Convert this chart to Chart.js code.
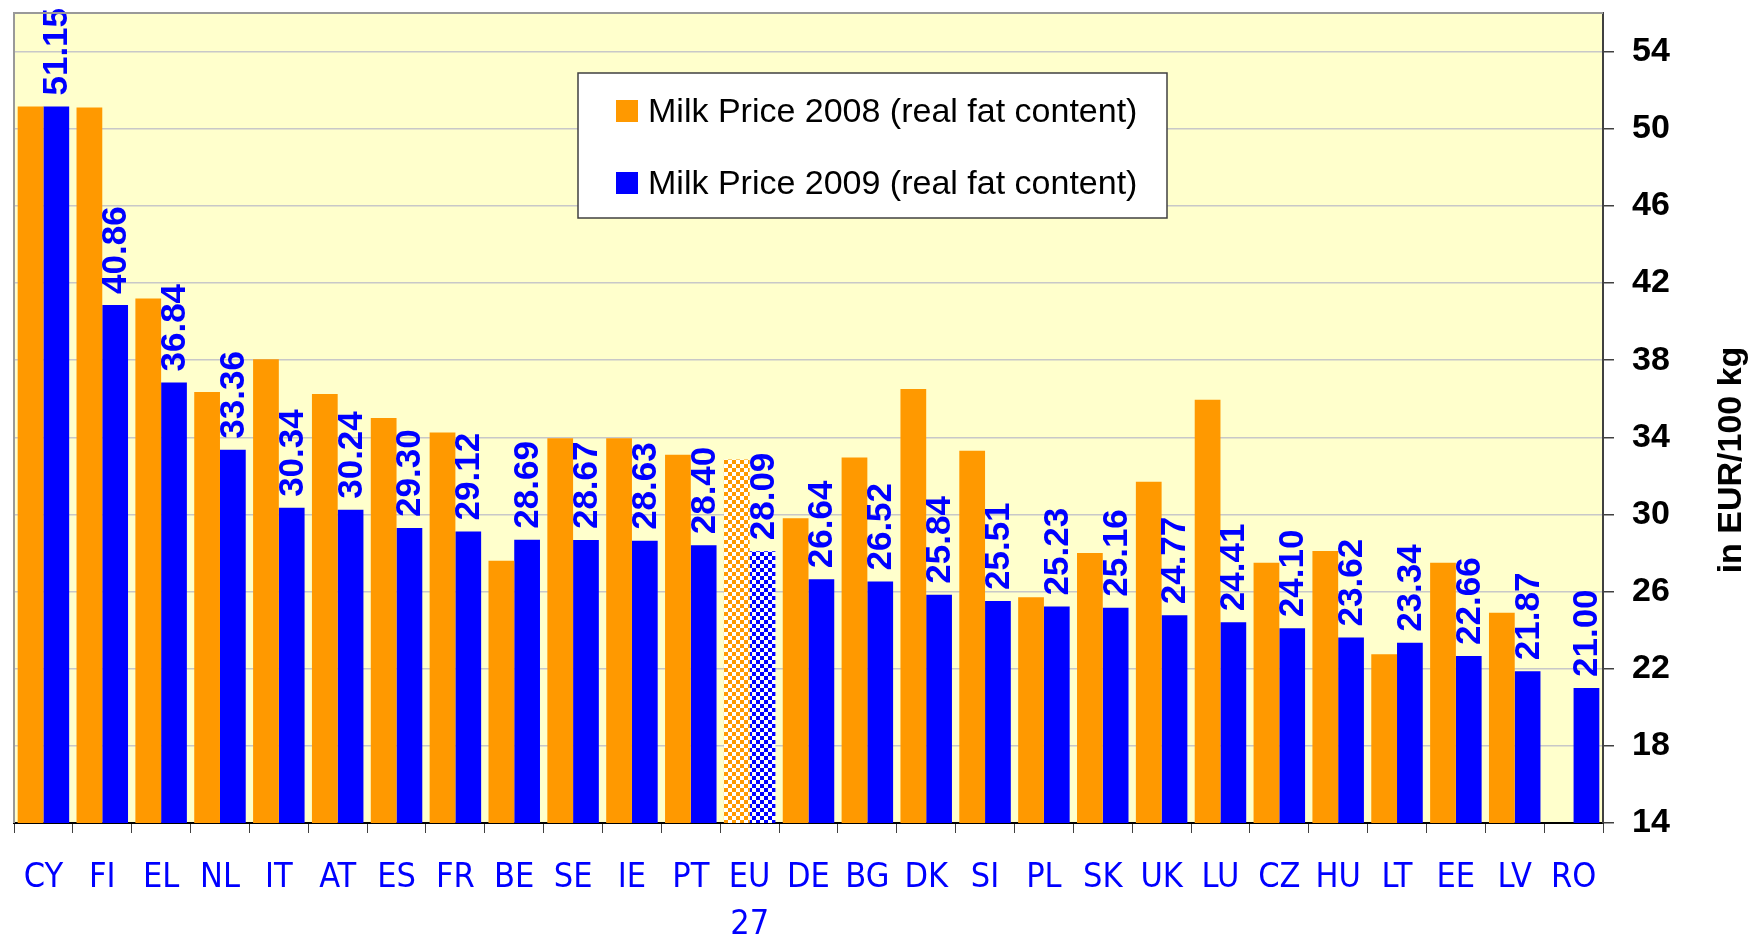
<!DOCTYPE html>
<html>
<head>
<meta charset="utf-8">
<title>Milk prices 2008 / 2009</title>
<script src="https://cdn.jsdelivr.net/npm/chart.js@4.4.1/dist/chart.umd.min.js"></script>
<style>
  html, body { margin: 0; padding: 0; background: #fff; }
  #wrap { width: 1754px; height: 934px; }
</style>
</head>
<body>
<div id="wrap"><canvas id="milk-chart" width="1754" height="934"></canvas></div>
<script>
// ---- Data ----
const countries = ['CY', 'FI', 'EL', 'NL', 'IT', 'AT', 'ES', 'FR', 'BE', 'SE', 'IE', 'PT', ['EU', '27'],
  'DE', 'BG', 'DK', 'SI', 'PL', 'SK', 'UK', 'LU', 'CZ', 'HU', 'LT', 'EE', 'LV', 'RO'];
const price2008 = [51.15, 51.10, 41.20, 36.35, 38.05, 36.25, 35.00, 34.25, 27.60, 33.95, 33.95, 33.10, 32.85,
  29.80, 32.95, 36.50, 33.30, 25.70, 28.00, 31.70, 35.95, 27.50, 28.10, 22.75, 27.50, 24.90, null];
const price2009 = [51.15, 40.86, 36.84, 33.36, 30.34, 30.24, 29.30, 29.12, 28.69, 28.67, 28.63, 28.40, 28.09,
  26.64, 26.52, 25.84, 25.51, 25.23, 25.16, 24.77, 24.41, 24.10, 23.62, 23.34, 22.66, 21.87, 21.00];
const yTicks = [14, 18, 22, 26, 30, 34, 38, 42, 46, 50, 54];
const seriesNames = ['Milk Price 2008 (real fat content)', 'Milk Price 2009 (real fat content)'];
const axisTitle = 'in EUR/100 kg';
const euIndex = 12;

// ---- Style ----
const ORANGE = '#FF9900';
const BLUE = '#0000FF';
const PLOT_BG = '#FFFFCC';
const ARIAL = '"Liberation Sans", Arial, sans-serif';
const NARROW = '"DejaVu Sans Condensed", "Liberation Sans Narrow", sans-serif';

const canvas = document.getElementById('milk-chart');
const ctx = canvas.getContext('2d');

function checker(color) {
  const c = document.createElement('canvas');
  c.width = 8; c.height = 8;
  const g = c.getContext('2d');
  g.fillStyle = '#fff'; g.fillRect(0, 0, 8, 8);
  g.fillStyle = color; g.fillRect(0, 0, 4, 4); g.fillRect(4, 4, 4, 4);
  return ctx.createPattern(c, 'repeat');
}
const orangeChecker = checker(ORANGE);
const blueChecker = checker(BLUE);

// ---- Plugins ----
const plotFrame = {
  id: 'plotFrame',
  beforeDraw(chart) {
    const a = chart.chartArea, c = chart.ctx;
    c.save();
    c.fillStyle = PLOT_BG;
    c.fillRect(a.left, a.top, a.right - a.left, a.bottom - a.top);
    c.restore();
  },
  afterDraw(chart) {
    const a = chart.chartArea, c = chart.ctx;
    c.save();
    c.strokeStyle = '#999';
    c.lineWidth = 2;
    c.beginPath();
    c.moveTo(a.left, a.bottom);
    c.lineTo(a.left, a.top);
    c.lineTo(a.right, a.top);
    c.stroke();
    c.restore();
  }
};

const valueLabels = {
  id: 'valueLabels',
  afterDatasetsDraw(chart) {
    const c = chart.ctx;
    const meta = chart.getDatasetMeta(1);
    c.save();
    c.fillStyle = BLUE;
    c.font = 'bold 35px ' + ARIAL;
    c.textAlign = 'left';
    c.textBaseline = 'alphabetic';
    meta.data.forEach((bar, i) => {
      c.save();
      c.translate(bar.x + 11, bar.y - 11);
      c.rotate(-Math.PI / 2);
      c.fillText(price2009[i].toFixed(2), 0, 0);
      c.restore();
    });
    c.restore();
  }
};

const boxLegend = {
  id: 'boxLegend',
  afterDraw(chart) {
    const c = chart.ctx;
    c.save();
    c.fillStyle = '#fff';
    c.fillRect(578, 73, 589, 145);
    c.strokeStyle = '#404040';
    c.lineWidth = 1.5;
    c.strokeRect(578, 73, 589, 145);
    c.font = '34px ' + ARIAL;
    c.textBaseline = 'alphabetic';
    c.textAlign = 'left';
    const rows = [{ color: ORANGE, base: 122 }, { color: BLUE, base: 194 }];
    rows.forEach((r, i) => {
      c.fillStyle = r.color;
      c.fillRect(616, r.base - 22, 22, 22);
      c.fillStyle = '#000';
      c.fillText(seriesNames[i], 648, r.base);
    });
    c.restore();
  }
};

const rightTitle = {
  id: 'rightTitle',
  afterDraw(chart) {
    const c = chart.ctx;
    c.save();
    c.translate(1741, 460);
    c.rotate(-Math.PI / 2);
    c.fillStyle = '#000';
    c.font = 'bold 34px ' + ARIAL;
    c.textAlign = 'center';
    c.textBaseline = 'alphabetic';
    c.fillText(axisTitle, 0, 0);
    c.restore();
  }
};

// ---- Chart ----
Chart.defaults.font.family = ARIAL;

new Chart(canvas, {
  type: 'bar',
  data: {
    labels: countries,
    datasets: [
      {
        label: seriesNames[0],
        data: price2008,
        backgroundColor: c => c.dataIndex === euIndex ? orangeChecker : ORANGE,
        categoryPercentage: 0.875,
        barPercentage: 1.0
      },
      {
        label: seriesNames[1],
        data: price2009,
        backgroundColor: c => c.dataIndex === euIndex ? blueChecker : BLUE,
        categoryPercentage: 0.875,
        barPercentage: 1.0
      }
    ]
  },
  options: {
    responsive: false,
    animation: false,
    devicePixelRatio: 1,
    layout: { padding: { left: 14, top: 13, right: 0, bottom: 0 } },
    plugins: {
      legend: { display: false },
      tooltip: { enabled: false }
    },
    scales: {
      x: {
        grid: { drawOnChartArea: false, drawTicks: true, tickLength: 10, tickColor: '#404040', offset: true },
        border: { color: '#000', width: 2 },
        ticks: {
          color: BLUE,
          font: { family: NARROW, size: 34, lineHeight: 1.4 },
          padding: 21,
          maxRotation: 0,
          autoSkip: false
        },
        afterFit: s => { s.height = 111; s.paddingLeft = 0; s.paddingRight = 0; }
      },
      y: {
        position: 'right',
        min: 14,
        max: 56,
        afterBuildTicks: s => { s.ticks = yTicks.map(v => ({ value: v })); },
        grid: {
          color: c => c.tick && c.tick.value === 14 ? 'rgba(0,0,0,0)' : '#C8C8C8',
          lineWidth: 1.5,
          tickLength: 11,
          tickColor: '#404040'
        },
        border: { color: '#404040', width: 2 },
        ticks: {
          color: '#000',
          font: { family: ARIAL, size: 34, weight: 'bold' },
          padding: 18
        },
        afterFit: s => { s.width = 151; s.paddingTop = 0; s.paddingBottom = 0; }
      }
    }
  },
  plugins: [plotFrame, valueLabels, boxLegend, rightTitle]
});
</script>
</body>
</html>
